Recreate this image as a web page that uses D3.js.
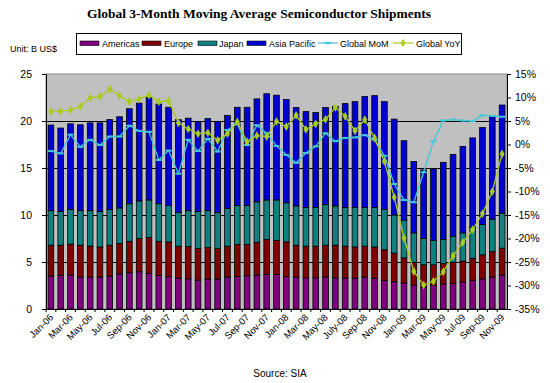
<!DOCTYPE html>
<html>
<head>
<meta charset="utf-8">
<script src="https://cdn.jsdelivr.net/npm/d3@7"></script>
<style>
  body { margin: 0; background: #fff; }
  text { font-family: "Liberation Sans", Arial, sans-serif; fill: #000; }
</style>
</head>
<body>
<script>
// months Jan-06 .. Nov-09
var months = ["Jan-06","Feb-06","Mar-06","Apr-06","May-06","Jun-06","Jul-06","Aug-06","Sep-06","Oct-06","Nov-06","Dec-06",
  "Jan-07","Feb-07","Mar-07","Apr-07","May-07","Jun-07","Jul-07","Aug-07","Sep-07","Oct-07","Nov-07","Dec-07",
  "Jan-08","Feb-08","Mar-08","Apr-08","May-08","Jun-08","July-08","Aug-08","Sep-08","Oct-08","Nov-08","Dec-08",
  "Jan-09","Feb-09","Mar-09","Apr-09","May-09","Jun-09","Jul-09","Aug-09","Sep-09","Oct-09","Nov-09"];

// B US$
var americas = [3.50,3.60,3.60,3.40,3.40,3.40,3.50,3.75,3.86,3.96,3.80,3.57,
  3.46,3.29,3.21,3.07,3.18,3.18,3.40,3.46,3.54,3.60,3.70,3.68,
  3.46,3.40,3.32,3.32,3.40,3.32,3.29,3.29,3.40,3.29,3.04,2.90,
  2.77,2.56,2.30,2.50,2.67,2.74,2.88,3.06,3.20,3.40,3.62];
var europe = [3.29,3.19,3.30,3.39,3.30,3.20,3.29,3.21,3.34,3.54,3.80,3.63,
  3.68,3.39,3.43,3.36,3.36,3.25,3.28,3.40,3.32,3.50,3.70,3.62,
  3.68,3.39,3.36,3.36,3.39,3.47,3.39,3.31,3.28,3.31,3.26,3.05,
  2.67,2.41,2.40,2.20,2.16,2.23,2.22,2.34,2.56,2.70,2.85];
var japan = [3.67,3.57,3.70,3.67,3.76,3.76,3.81,3.79,4.00,4.00,4.00,4.00,
  3.86,3.57,3.82,3.93,3.92,3.82,4.02,4.14,4.14,4.30,4.20,4.30,
  4.16,4.17,4.12,4.12,4.31,4.17,4.12,4.20,4.12,4.20,4.30,4.05,
  4.01,3.13,2.80,2.60,2.57,2.78,3.00,3.30,3.24,3.46,3.73];
var asiaPacific = [9.11,8.89,9.10,9.14,9.34,9.44,9.55,9.70,10.10,10.40,10.90,10.60,
  10.46,9.89,9.84,9.60,9.79,9.71,9.90,10.46,10.46,10.95,11.30,11.15,
  10.98,10.47,10.20,10.10,10.33,10.60,11.05,11.26,11.80,11.90,11.46,10.20,
  8.45,7.60,7.30,7.60,8.20,8.70,9.20,9.50,10.30,10.94,11.50];

// percent
var globalMoM = [-1.4,-1.9,2.1,-0.5,1.0,-0.1,1.7,1.7,4.0,2.9,2.7,-3.3,
  -1.3,-6.2,1.0,-1.4,1.2,-1.5,3.1,4.4,-0.1,4.1,2.4,-0.3,
  -2.2,-3.9,-1.8,-0.4,2.4,0.7,1.4,1.5,2.0,1.0,-2.4,-8.4,
  -11.8,-12.3,-5.9,0.7,5.1,5.3,5.1,5.0,6.2,6.1,5.9];
var globalYoY = [7.0,7.1,7.3,8.1,9.9,10.2,11.8,10.4,9.1,9.7,10.5,9.1,
  9.3,4.6,3.3,2.3,2.5,0.9,2.3,4.8,0.6,1.9,1.7,4.9,
  3.8,6.2,3.2,4.4,5.35,7.9,6.0,2.9,5.3,1.4,-3.6,-11.2,
  -19.9,-27.0,-29.9,-29.1,-27.1,-23.7,-20.8,-18.1,-14.7,-10.0,-2.0];

var seriesNames = ["Americas", "Europe", "Japan", "Asia Pacific"];
var seriesColors = ["#800080", "#800000", "#108080", "#0000d4"];
var leftTicks = [0, 5, 10, 15, 20, 25];
var rightTicks = [-35, -30, -25, -20, -15, -10, -5, 0, 5, 10, 15];

var width = 550, height = 383;
var plot = { left: 46, right: 507, top: 74, bottom: 309 };

var svg = d3.select("body").append("svg")
  .attr("width", width)
  .attr("height", height);

// table for stacking
var rows = months.map(function(m, i) {
  return { month: m, "Americas": americas[i], "Europe": europe[i], "Japan": japan[i], "Asia Pacific": asiaPacific[i] };
});
var stacked = d3.stack().keys(seriesNames)(rows);

var x = d3.scaleBand()
  .domain(months)
  .range([plot.left, plot.right])
  .paddingInner(0.42)
  .paddingOuter(0.21);
var step = x.step();
var cx = function(m) { return x(m) + x.bandwidth() / 2; };

var y = d3.scaleLinear().domain([0, 25]).range([plot.bottom, plot.top]);
var yr = d3.scaleLinear().domain([-35, 15]).range([plot.bottom, plot.top]);

// plot background
svg.append("rect")
  .attr("x", plot.left).attr("y", plot.top)
  .attr("width", plot.right - plot.left).attr("height", plot.bottom - plot.top)
  .attr("fill", "#c0c0c0")
  .attr("stroke", "#8c8c8c")
  .attr("stroke-width", 1);

// gridlines
svg.append("g").selectAll("line")
  .data(leftTicks.filter(function(t) { return t > 0 && t < 25; }))
  .enter().append("line")
  .attr("x1", plot.left).attr("x2", plot.right)
  .attr("y1", function(d) { return y(d) + 0.5; })
  .attr("y2", function(d) { return y(d) + 0.5; })
  .attr("stroke", "#000").attr("stroke-width", 1);

// stacked bars
svg.append("g").selectAll("g")
  .data(stacked)
  .enter().append("g")
  .attr("fill", function(d, i) { return seriesColors[i]; })
  .selectAll("rect")
  .data(function(d) { return d; })
  .enter().append("rect")
  .attr("x", function(d) { return x(d.data.month); })
  .attr("width", x.bandwidth())
  .attr("y", function(d) { return y(d[1]); })
  .attr("height", function(d) { return y(d[0]) - y(d[1]); })
  .attr("stroke", "#000")
  .attr("stroke-width", 0.8);

// lines
var momLine = d3.line()
  .x(function(d, i) { return cx(months[i]); })
  .y(function(d) { return yr(d); });

svg.append("path")
  .datum(globalMoM)
  .attr("d", momLine)
  .attr("fill", "none")
  .attr("stroke", "#40c8d8")
  .attr("stroke-width", 1.3);

svg.append("g").selectAll("rect")
  .data(globalMoM)
  .enter().append("rect")
  .attr("x", function(d, i) { return cx(months[i]) - 3; })
  .attr("y", function(d) { return yr(d) - 1; })
  .attr("width", 6).attr("height", 2)
  .attr("fill", "#40c8d8");

svg.append("path")
  .datum(globalYoY)
  .attr("d", momLine)
  .attr("fill", "none")
  .attr("stroke", "#a8cc20")
  .attr("stroke-width", 1.3);

svg.append("g").selectAll("path")
  .data(globalYoY)
  .enter().append("path")
  .attr("d", d3.symbol().type(d3.symbolDiamond).size(22))
  .attr("transform", function(d, i) { return "translate(" + cx(months[i]) + "," + yr(d) + ")"; })
  .attr("fill", "#a8cc20");

// left axis
var leftAxis = svg.append("g")
  .attr("transform", "translate(" + plot.left + ",0)")
  .call(d3.axisLeft(y).tickValues(leftTicks).tickSize(4).tickPadding(10));
leftAxis.select(".domain").attr("stroke", "#000");
leftAxis.selectAll("text").style("font-size", "10.5px");

// right axis
var rightAxis = svg.append("g")
  .attr("transform", "translate(" + plot.right + ",0)")
  .call(d3.axisRight(yr).tickValues(rightTicks).tickSize(4).tickPadding(5)
    .tickFormat(function(d) { return d + "%"; }));
rightAxis.select(".domain").attr("stroke", "#000");
rightAxis.selectAll("text").style("font-size", "10.5px").attr("x", 8);

// bottom axis line and category ticks
svg.append("line")
  .attr("x1", plot.left).attr("x2", plot.right)
  .attr("y1", plot.bottom + 0.5).attr("y2", plot.bottom + 0.5)
  .attr("stroke", "#000");
svg.append("g").selectAll("line")
  .data(months)
  .enter().append("line")
  .attr("x1", function(d) { return x(d) - step * 0.21; })
  .attr("x2", function(d) { return x(d) - step * 0.21; })
  .attr("y1", plot.bottom).attr("y2", plot.bottom + 3)
  .attr("stroke", "#000");

// category labels, every second month
svg.append("g").selectAll("text")
  .data(months.filter(function(d, i) { return i % 2 === 0; }))
  .enter().append("text")
  .attr("transform", function(d) { return "translate(" + (cx(d) + 3) + "," + (plot.bottom + 9) + ") rotate(-45)"; })
  .attr("text-anchor", "end")
  .style("font-size", "9.5px")
  .text(function(d) { return d; });

// title
svg.append("text")
  .attr("x", 259).attr("y", 18)
  .attr("text-anchor", "middle")
  .style("font-family", "'Liberation Serif', serif")
  .style("font-weight", "bold")
  .style("font-size", "13.5px")
  .text("Global 3-Month Moving Average Semiconductor Shipments");

svg.append("text")
  .attr("x", 10).attr("y", 52)
  .style("font-size", "9px")
  .text("Unit: B US$");

svg.append("text")
  .attr("x", 280).attr("y", 377)
  .attr("text-anchor", "middle")
  .style("font-size", "10px")
  .text("Source: SIA");

// legend
var legend = svg.append("g");
legend.append("rect")
  .attr("x", 76.5).attr("y", 33.5).attr("width", 385).attr("height", 21)
  .attr("fill", "#fff").attr("stroke", "#000");

var swatchX = [80, 142, 198, 247];
var labelX = [102, 164, 219, 269];
seriesNames.forEach(function(name, i) {
  legend.append("rect")
    .attr("x", swatchX[i]).attr("y", 41).attr("width", 19).attr("height", 4.5)
    .attr("fill", seriesColors[i]).attr("stroke", "#000").attr("stroke-width", 0.6);
  legend.append("text")
    .attr("x", labelX[i]).attr("y", 47)
    .style("font-size", "9px")
    .text(name);
});

legend.append("line")
  .attr("x1", 318).attr("x2", 338).attr("y1", 43).attr("y2", 43)
  .attr("stroke", "#40c8d8").attr("stroke-width", 1.2);
legend.append("rect")
  .attr("x", 325).attr("y", 42).attr("width", 6).attr("height", 2)
  .attr("fill", "#40c8d8");
legend.append("text")
  .attr("x", 340).attr("y", 47)
  .style("font-size", "9px")
  .text("Global MoM");

legend.append("line")
  .attr("x1", 393).attr("x2", 413).attr("y1", 43).attr("y2", 43)
  .attr("stroke", "#a8cc20").attr("stroke-width", 1.2);
legend.append("path")
  .attr("d", d3.symbol().type(d3.symbolDiamond).size(22))
  .attr("transform", "translate(403,43)")
  .attr("fill", "#a8cc20");
legend.append("text")
  .attr("x", 416).attr("y", 47)
  .style("font-size", "9px")
  .text("Global YoY");
</script>
</body>
</html>
